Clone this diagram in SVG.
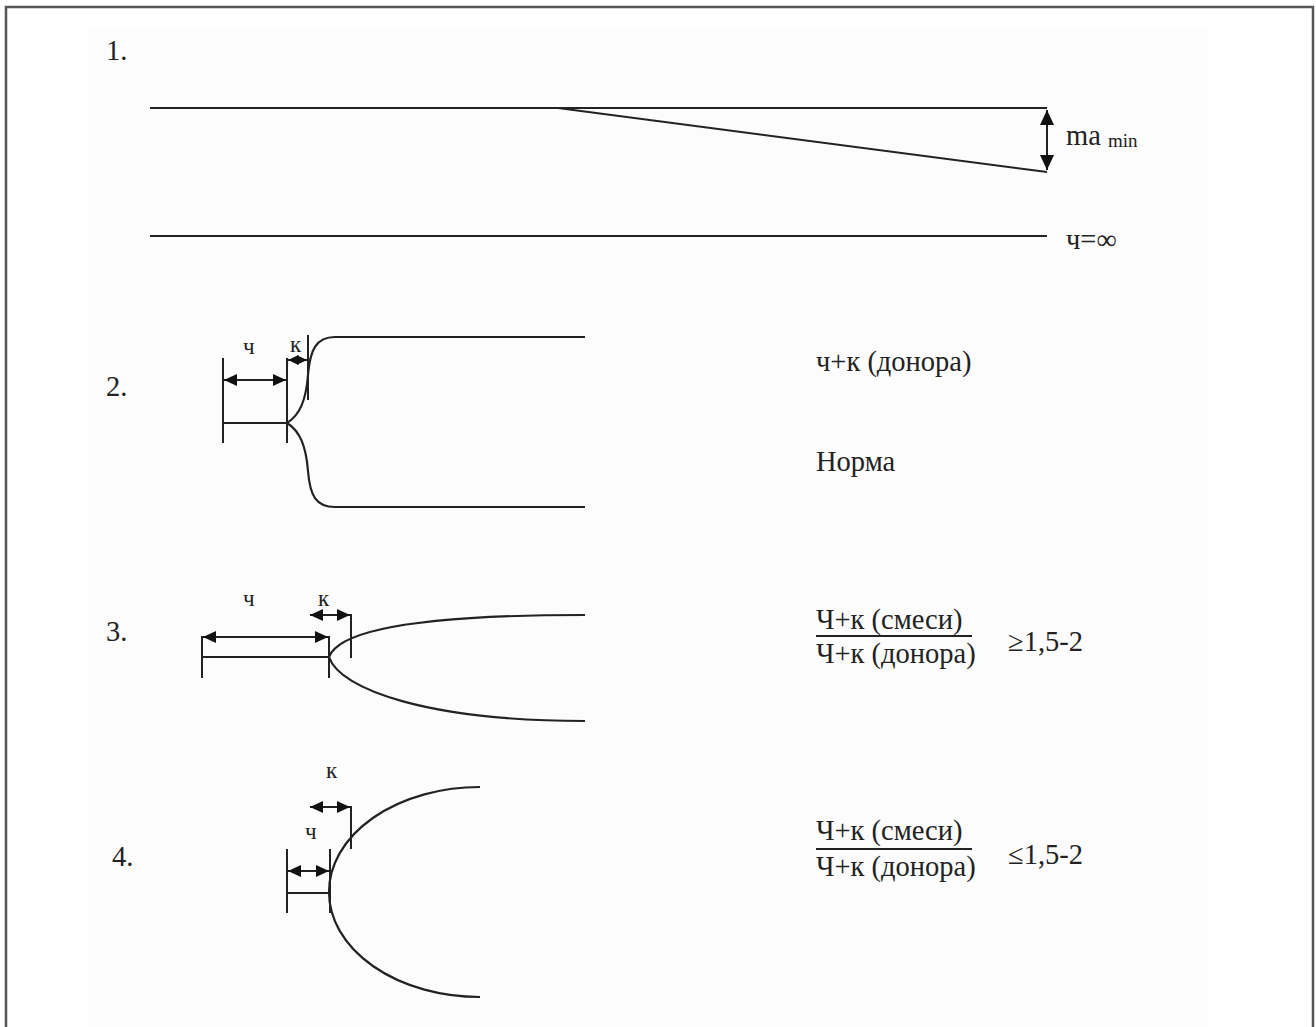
<svg xmlns="http://www.w3.org/2000/svg" width="1316" height="1027" viewBox="0 0 1316 1027">
<defs>
<style>
.ln{stroke:#222;stroke-width:2;fill:none}
.cv{stroke:#222;stroke-width:2.2;fill:none}
text{font-family:"Liberation Serif","DejaVu Serif","Noto Serif",serif;fill:#222}
.t{font-size:28.5px}
.lb{font-size:23px}
</style>
<marker id="ah" markerUnits="userSpaceOnUse" markerWidth="14" markerHeight="12" refX="13" refY="6" orient="auto-start-reverse"><path d="M0,0 L13,6 L0,12 z" fill="#111"/></marker>
<marker id="ahs" markerUnits="userSpaceOnUse" markerWidth="11" markerHeight="10" refX="10.5" refY="5" orient="auto-start-reverse"><path d="M0,0 L10.5,5 L0,10 z" fill="#111"/></marker>
<marker id="ahv" markerUnits="userSpaceOnUse" markerWidth="16" markerHeight="14" refX="15" refY="7" orient="auto-start-reverse"><path d="M0,0 L15,7 L0,14 z" fill="#111"/></marker>
</defs>
<rect x="0" y="0" width="1316" height="1027" fill="#fff"/>
<rect x="88" y="29" width="1120" height="998" fill="#fcfcfc"/>
<path d="M6,1027 V7 H1313 V1027" fill="none" stroke="#555" stroke-width="2.5"/>

<g id="panel1">
<text class="t" x="106" y="60">1.</text>
<line class="ln" x1="150" y1="108" x2="1047" y2="108"/>
<line class="ln" x1="558" y1="108" x2="1047" y2="172"/>
<line class="ln" x1="150" y1="236" x2="1047" y2="236"/>
<text class="t" x="1066" y="145" font-size="30">ma <tspan font-size="19" dy="2">min</tspan></text>
<text class="t" x="1066" y="249" font-size="26">ч=∞</text>
</g>

<g id="panel2">
<text class="t" x="106" y="396">2.</text>
<line class="ln" x1="223" y1="358" x2="223" y2="443"/>
<line class="ln" x1="287" y1="358" x2="287" y2="443"/>
<line class="ln" x1="223" y1="423" x2="287" y2="423"/>
<line class="ln" x1="308" y1="335" x2="308" y2="400"/>
<path class="cv" d="M287,423 C300,415 306,400 308,375 C310,350 316,337 335,337 H585"/>
<path class="cv" d="M287,423 C300,431 306,446 308,471 C310,496 316,507 335,507 H585"/>
<text class="lb" x="243" y="354">ч</text>
<text class="lb" x="290" y="352">к</text>
<text class="t" x="816" y="371">ч+к (донора)</text>
<text class="t" x="816" y="471">Норма</text>
</g>

<g id="panel3">
<text class="t" x="106" y="641">3.</text>
<line class="ln" x1="202" y1="636" x2="202" y2="678"/>
<line class="ln" x1="329" y1="636" x2="329" y2="678"/>
<line class="ln" x1="202" y1="657" x2="329" y2="657"/>
<line class="ln" x1="351" y1="614" x2="351" y2="658"/>
<path class="cv" d="M585,615 C430,615 340,628 329,657 C340,690 430,721 585,721"/>
<text class="lb" x="243" y="606">ч</text>
<text class="lb" x="318" y="606">к</text>
<text class="t" x="816" y="629">Ч+к (смеси)</text>
<line x1="816" y1="636" x2="972" y2="636" stroke="#222" stroke-width="2"/>
<text class="t" x="816" y="663">Ч+к (донора)</text>
<text class="t" x="1008" y="651">≥1,5-2</text>
</g>

<g id="panel4">
<text class="t" x="112" y="866">4.</text>
<line class="ln" x1="287" y1="849" x2="287" y2="913"/>
<line class="ln" x1="330" y1="849" x2="330" y2="913"/>
<line class="ln" x1="287" y1="893" x2="330" y2="893"/>
<line class="ln" x1="351" y1="806" x2="351" y2="849"/>
<path class="cv" d="M480,787 A151,105 0 0 0 480,997"/>
<text class="lb" x="305" y="839">ч</text>
<text class="lb" x="326" y="778">к</text>
<text class="t" x="816" y="840">Ч+к (смеси)</text>
<line x1="816" y1="849" x2="972" y2="849" stroke="#222" stroke-width="2"/>
<text class="t" x="816" y="876">Ч+к (донора)</text>
<text class="t" x="1008" y="864">≤1,5-2</text>
</g>

<g id="connectors">
<line class="ln" x1="1047" y1="110" x2="1047" y2="170" marker-start="url(#ahv)" marker-end="url(#ahv)"/>
<line class="ln" x1="224" y1="380" x2="286" y2="380" marker-start="url(#ah)" marker-end="url(#ah)"/>
<line class="ln" x1="288" y1="360" x2="307" y2="360" marker-start="url(#ahs)" marker-end="url(#ahs)"/>
<line class="ln" x1="203" y1="637" x2="328" y2="637" marker-start="url(#ah)" marker-end="url(#ah)"/>
<line class="ln" x1="310" y1="615" x2="350" y2="615" marker-start="url(#ah)" marker-end="url(#ah)"/>
<line class="ln" x1="288" y1="871" x2="329" y2="871" marker-start="url(#ah)" marker-end="url(#ah)"/>
<line class="ln" x1="310" y1="807" x2="350" y2="807" marker-start="url(#ah)" marker-end="url(#ah)"/>
</g>
</svg>
